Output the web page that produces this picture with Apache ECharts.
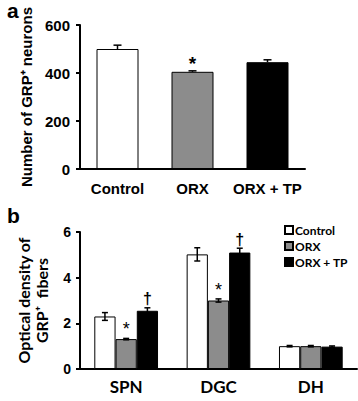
<!DOCTYPE html>
<html><head><meta charset="utf-8">
<script src="https://cdn.jsdelivr.net/npm/echarts@6/dist/echarts.min.js"></script>
<style>html,body{margin:0;padding:0;background:#fff}#c{width:358px;height:401px}</style>
</head><body><div id="c"></div>
<script>
// Panel a
const catA = ['Control', 'ORX', 'ORX + TP'];
const valA = [500, 405, 445];
const errA = [16, 4, 10];
const markA = ['', '*', ''];
const ticksA = [0, 200, 400, 600];
// Panel b
const catB = ['SPN', 'DGC', 'DH'];
const groupNames = ['Control', 'ORX', 'ORX + TP'];
const ctrlB = [2.3, 5.02, 1.0];
const ctrlErrB = [0.17, 0.29, 0.03];
const orxB = [1.31, 3.0, 1.0];
const orxErrB = [0.03, 0.07, 0.03];
const tpB = [2.55, 5.1, 0.98];
const tpErrB = [0.13, 0.19, 0.03];
const markCtrlB = ['', '', ''];
const markOrxB = ['*', '*', ''];
const markTpB = ['\u2020', '\u2020', ''];
const ticksB = [0, 2, 4, 6];

const colors = ['#ffffff', '#8c8c8c', '#000000'];
const fontA = 'Liberation Sans, Arial, sans-serif';
const fontB = 'Lato, Open Sans, sans-serif';

function errRender(errArr, markArr, offsetFrac, upOnly, cap, markFont, markGap) {
  return function (params, api) {
    const i = api.value(0), v = api.value(1);
    const e = errArr[params.dataIndex];
    const w = api.size([1, 0])[0];
    const c = api.coord([i, v]);
    const hi = api.coord([i, v + e]);
    const lo = api.coord([i, upOnly ? v : v - e]);
    const x = c[0] + offsetFrac * w;
    const st = { stroke: '#000', lineWidth: 1.5 };
    const children = [
      { type: 'line', shape: { x1: x, y1: lo[1], x2: x, y2: hi[1] }, style: st },
      { type: 'line', shape: { x1: x - cap, y1: hi[1], x2: x + cap, y2: hi[1] }, style: st }
    ];
    if (!upOnly) children.push({ type: 'line', shape: { x1: x - cap, y1: lo[1], x2: x + cap, y2: lo[1] }, style: st });
    const m = markArr[params.dataIndex];
    if (m) children.push({ type: 'text', style: { text: m, x: x, y: hi[1] - markGap, align: 'center', verticalAlign: 'bottom', font: markFont, fill: '#000' } });
    return { type: 'group', children: children };
  };
}

const axisLine = { show: true, lineStyle: { color: '#000', width: 2 } };
const chart = echarts.init(document.getElementById('c'), null, { renderer: 'svg' });
chart.setOption({
  animation: false,
  backgroundColor: '#fff',
  graphic: [
    { type: 'text', left: 7, top: 0, style: { text: 'a', font: 'bold 21px ' + fontA, fill: '#000' } },
    { type: 'text', left: 7, top: 205, style: { text: 'b', font: 'bold 21px ' + fontA, fill: '#000' } }
  ],
  legend: {
    data: groupNames, orient: 'vertical', left: 284, top: 224, itemGap: 4, padding: 0,
    itemWidth: 8, itemHeight: 8, icon: 'rect',
    textStyle: { fontFamily: fontB, fontWeight: 'bold', fontSize: 12, color: '#000', padding: [0, 0, 0, -3] }
  },
  grid: [
    { left: 80, top: 25, width: 225, height: 144 },
    { left: 80, top: 232, width: 277, height: 137 }
  ],
  xAxis: [
    { type: 'category', gridIndex: 0, data: catA, axisLine: axisLine, axisTick: { show: false },
      axisLabel: { interval: 0, color: '#000', fontFamily: fontA, fontWeight: 'bold', fontSize: 15, margin: 12 } },
    { type: 'category', gridIndex: 1, data: catB, axisLine: axisLine, axisTick: { show: false },
      axisLabel: { interval: 0, color: '#000', fontFamily: fontB, fontWeight: 'bold', fontSize: 17, margin: 9 } }
  ],
  yAxis: [
    { type: 'value', gridIndex: 0, min: ticksA[0], max: ticksA[ticksA.length - 1], interval: 200,
      axisLine: axisLine, axisTick: { show: true, length: 4, lineStyle: { color: '#000', width: 2 } }, splitLine: { show: false },
      axisLabel: { color: '#000', fontFamily: fontA, fontWeight: 'bold', fontSize: 15, margin: 10 },
      name: 'Number of GRP\u207A neurons', nameLocation: 'middle', nameGap: 45,
      nameTextStyle: { color: '#000', fontFamily: fontA, fontWeight: 'bold', fontSize: 15 } },
    { type: 'value', gridIndex: 1, min: ticksB[0], max: ticksB[ticksB.length - 1], interval: 2,
      axisLine: axisLine, axisTick: { show: true, length: 4, lineStyle: { color: '#000', width: 2 } }, splitLine: { show: false },
      axisLabel: { color: '#000', fontFamily: fontA, fontWeight: 'bold', fontSize: 14, margin: 9 },
      name: 'Optical density of\nGRP\u207A  fibers', nameLocation: 'middle', nameGap: 30,
      nameTextStyle: { color: '#000', fontFamily: fontB, fontWeight: 'bold', fontSize: 16, lineHeight: 18 } }
  ],
  series: [
    { type: 'bar', xAxisIndex: 0, yAxisIndex: 0, barCategoryGap: '44%',
      data: valA.map((v, i) => ({ value: v, itemStyle: { color: colors[i], borderColor: '#000', borderWidth: 1 } })) },
    { type: 'custom', xAxisIndex: 0, yAxisIndex: 0, z: 5,
      renderItem: errRender(errA, markA, 0, true, 4, 'bold 19px ' + fontA, -2),
      data: valA.map((v, i) => [i, v]) },
    { type: 'bar', name: groupNames[0], xAxisIndex: 1, yAxisIndex: 1, barGap: '0%', barCategoryGap: '31%',
      itemStyle: { color: colors[0], borderColor: '#000', borderWidth: 1 }, data: ctrlB },
    { type: 'bar', name: groupNames[1], xAxisIndex: 1, yAxisIndex: 1, barGap: '0%', barCategoryGap: '31%',
      itemStyle: { color: colors[1], borderColor: '#000', borderWidth: 1 }, data: orxB },
    { type: 'bar', name: groupNames[2], xAxisIndex: 1, yAxisIndex: 1, barGap: '0%', barCategoryGap: '31%',
      itemStyle: { color: colors[2], borderColor: '#000', borderWidth: 1 }, data: tpB },
    { type: 'custom', xAxisIndex: 1, yAxisIndex: 1, z: 5,
      renderItem: errRender(ctrlErrB, markCtrlB, -0.23, false, 3, 'normal 18px ' + fontA, 3),
      data: ctrlB.map((v, i) => [i, v]) },
    { type: 'custom', xAxisIndex: 1, yAxisIndex: 1, z: 5,
      renderItem: errRender(orxErrB, markOrxB, 0, false, 3, 'normal 18px ' + fontA, 0),
      data: orxB.map((v, i) => [i, v]) },
    { type: 'custom', xAxisIndex: 1, yAxisIndex: 1, z: 5,
      renderItem: errRender(tpErrB, markTpB, 0.23, false, 3, 'bold 16px ' + fontA, 1),
      data: tpB.map((v, i) => [i, v]) }
  ]
});
</script></body></html>
